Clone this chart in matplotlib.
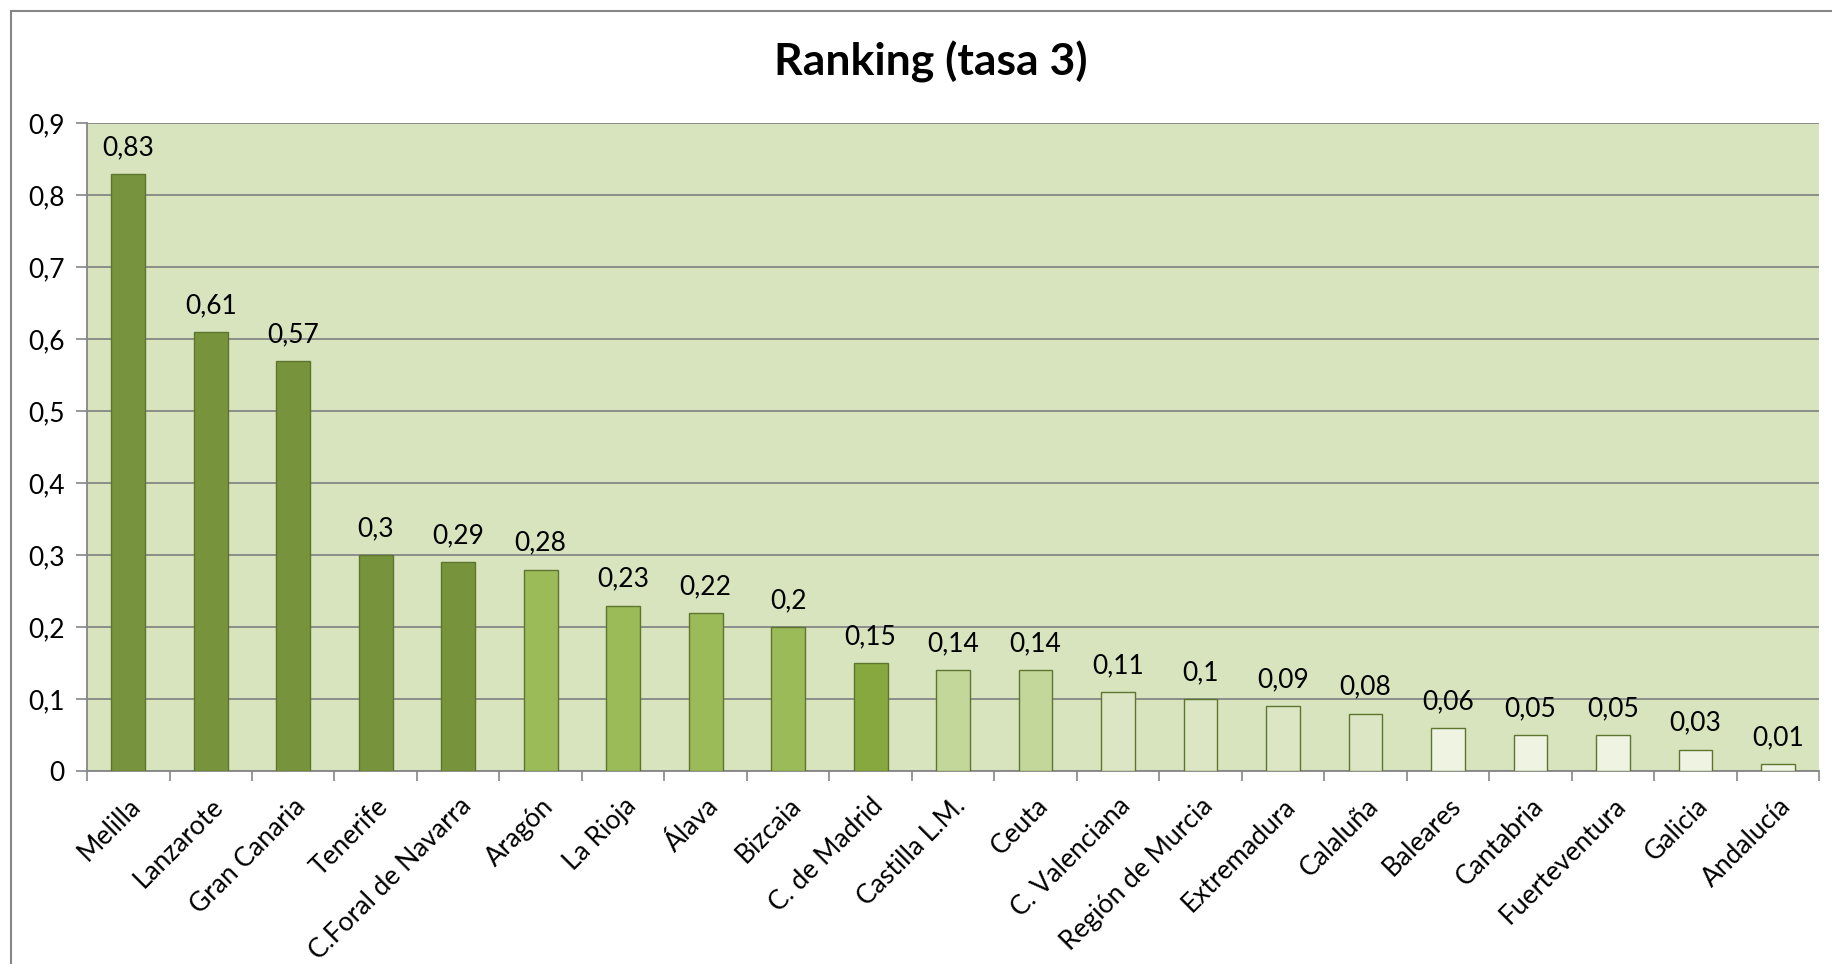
import numpy as np
import matplotlib.pyplot as plt
import matplotlib.ticker as mticker
from matplotlib.lines import Line2D

plt.rcParams['font.family'] = ['Lato', 'DejaVu Sans']

# data
regions = ['Melilla', 'Lanzarote', 'Gran Canaria', 'Tenerife', 'C.Foral de Navarra',
           'Aragón', 'La Rioja', 'Álava', 'Bizcaia', 'C. de Madrid', 'Castilla L.M.',
           'Ceuta', 'C. Valenciana', 'Región de Murcia', 'Extremadura', 'Calaluña',
           'Baleares', 'Cantabria', 'Fuerteventura', 'Galicia', 'Andalucía']
tasa3 = [0.83, 0.61, 0.57, 0.30, 0.29, 0.28, 0.23, 0.22, 0.20, 0.15, 0.14,
         0.14, 0.11, 0.10, 0.09, 0.08, 0.06, 0.05, 0.05, 0.03, 0.01]

# bar colour shades, in chart order
colors = ['#77933C'] * 5 + ['#9BBB59'] * 4 + ['#86A83F'] + ['#C4D79B'] * 2 \
         + ['#DCE6C4'] * 4 + ['#EEF3E2'] * 5

fig = plt.figure(figsize=(18.32, 9.64), dpi=100)
ax = fig.add_axes([0.0475, 0.2, 0.9455, 0.672])

x = np.arange(len(regions))
ax.set_facecolor('#D7E4BD')
bars = ax.bar(x, tasa3, width=0.41, color=colors, edgecolor='#5E7530',
              linewidth=1.0, zorder=3)

for xi, v in zip(x, tasa3):
    ax.annotate(f'{v:g}'.replace('.', ','), (xi, v), xytext=(0, 19),
                textcoords='offset points', ha='center', va='center',
                fontsize=19, color='black')

ax.set_xlim(-0.5, len(regions) - 0.5)
ax.set_ylim(0, 0.9)
ax.yaxis.set_major_locator(mticker.MultipleLocator(0.1))
ax.yaxis.set_major_formatter(mticker.FuncFormatter(lambda v, p: f'{v:.1f}'.replace('.', ',') if v > 0 else '0'))
ax.grid(axis='y', color='#868686', linewidth=1.3, zorder=1)
ax.set_axisbelow(True)

ax.set_xticks(x)
ax.set_xticklabels(regions, rotation=45, ha='right', rotation_mode='anchor', fontsize=19)
ax.set_xticks(np.arange(-0.5, len(regions), 1), minor=True)
ax.tick_params(axis='x', which='major', length=0, pad=16)
ax.tick_params(axis='x', which='minor', length=7, color='#868686', width=1.2)
ax.tick_params(axis='y', length=8, color='#868686', width=1.2, pad=8, labelsize=19)

for s in ['top', 'right']:
    ax.spines[s].set_visible(False)
for s in ['left', 'bottom']:
    ax.spines[s].set_color('#868686')
    ax.spines[s].set_linewidth(1.3)

fig.text(0.508, 0.936, 'Ranking (tasa 3)', ha='center', va='center',
         fontsize=32, fontweight='bold')

# outer chart frame
fig.add_artist(Line2D([0.006, 0.006], [0, 0.989], color='#868686', lw=1.5))
fig.add_artist(Line2D([0.006, 1.0], [0.989, 0.989], color='#868686', lw=1.5))

fig.savefig('out.png', dpi=100)
